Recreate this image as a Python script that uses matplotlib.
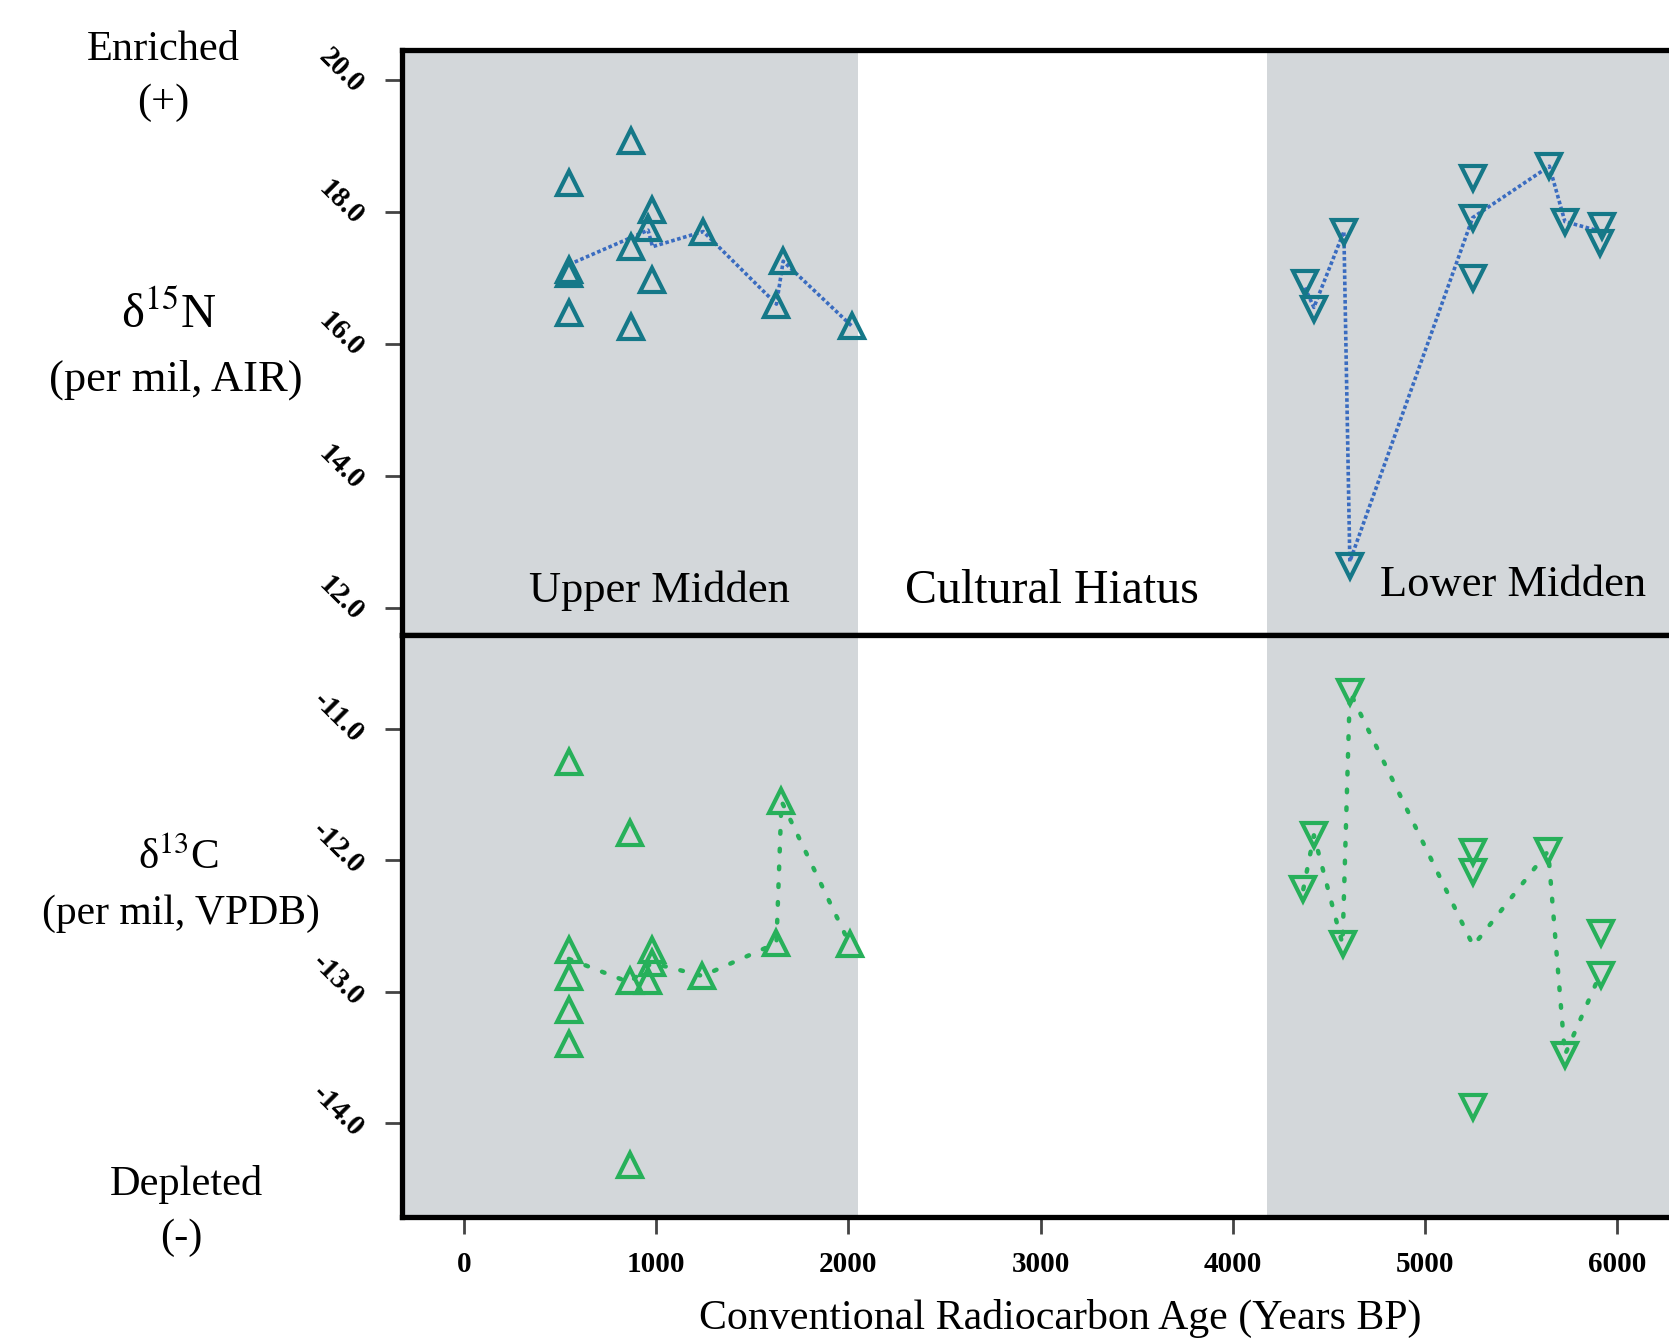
import matplotlib
matplotlib.use("Agg")
import matplotlib.pyplot as plt

# --- data ---
# d15N, upper midden (individual samples)
n_up_age = [547, 547, 547, 547, 867, 867, 867, 958, 981, 981, 1245, 1626, 1661, 2017]
n_up_val = [18.43, 17.12, 17.05, 16.47, 19.07, 17.47, 16.26, 17.75, 18.02, 16.97, 17.70, 16.59, 17.25, 16.27]
# d15N, upper midden trend line
n_up_line_age = [547, 958, 981, 1245, 1626, 1661, 2017]
n_up_line_val = [17.20, 17.72, 17.47, 17.70, 16.60, 17.25, 16.27]

# d15N, lower midden
n_lo_age = [4375, 4422, 4578, 4609, 5248, 5248, 5248, 5647, 5728, 5919, 5910]
n_lo_val = [16.92, 16.52, 17.70, 12.63, 18.51, 17.91, 17.00, 18.69, 17.85, 17.78, 17.53]
n_lo_line_age = [4375, 4422, 4578, 4609, 5248, 5647, 5728, 5915]
n_lo_line_val = [16.85, 16.55, 17.70, 12.70, 17.91, 18.69, 17.85, 17.70]

# d13C, upper midden
c_up_age = [546, 546, 546, 546, 546, 863, 863, 863, 958, 976, 976, 1241, 1626, 1652, 2008]
c_up_val = [-11.25, -12.68, -12.89, -13.14, -13.40, -11.79, -12.92, -14.32, -12.92, -12.68, -12.78,
            -12.88, -12.63, -11.55, -12.64]
c_up_line_age = [546, 863, 976, 1241, 1626, 1652, 2008]
c_up_line_val = [-12.75, -12.93, -12.78, -12.88, -12.63, -11.55, -12.64]

# d13C, lower midden
c_lo_age = [4367, 4422, 4571, 4609, 5251, 5251, 5251, 5641, 5728, 5916, 5916]
c_lo_val = [-12.22, -11.81, -12.64, -10.72, -11.94, -12.09, -13.88, -11.93, -13.48, -12.55, -12.87]
c_lo_line_age = [4367, 4422, 4571, 4609, 5251, 5641, 5728, 5916]
c_lo_line_val = [-12.22, -11.81, -12.64, -10.72, -12.65, -11.93, -13.48, -12.85]

upper_span = (-400, 2050)
lower_span = (4180, 7000)

n_ticks = [12.0, 14.0, 16.0, 18.0, 20.0]
c_ticks = [-14.0, -13.0, -12.0, -11.0]
x_ticks = [0, 1000, 2000, 3000, 4000, 5000, 6000]

# --- styling ---
serif = "Liberation Serif"
plt.rcParams["mathtext.fontset"] = "stix"

teal = "#157888"
blue = "#3a6cc0"
green = "#27b05a"
shade = "#d3d7da"

fig = plt.figure(figsize=(16.69, 13.44), dpi=100)
ax1 = fig.add_axes([0.241, 0.5272, 0.77, 0.4356])
ax2 = fig.add_axes([0.241, 0.0948, 0.77, 0.4324])

for ax in (ax1, ax2):
    ax.axvspan(*upper_span, color=shade, lw=0, zorder=0)
    ax.axvspan(*lower_span, color=shade, lw=0, zorder=0)
    ax.set_xlim(-321, 6365)
    for s in ax.spines.values():
        s.set_linewidth(3.8)
        s.set_color("black")
    ax.spines["right"].set_visible(False)
    ax.tick_params(axis="both", direction="out", length=12, width=2, color="#444444")

# top panel: nitrogen
ax1.plot(n_up_line_age, n_up_line_val, color=blue, lw=2.6, ls=(0, (1, 0.7)), zorder=2)
ax1.plot(n_lo_line_age, n_lo_line_val, color=blue, lw=2.6, ls=(0, (1, 0.7)), zorder=2)
ax1.plot(n_up_age, n_up_val, ls="none", marker="^", ms=17, mew=3, mfc="none", mec=teal, zorder=3)
ax1.plot(n_lo_age, n_lo_val, ls="none", marker="v", ms=17, mew=3, mfc="none", mec=teal, zorder=3)
ax1.set_ylim(11.58, 20.45)
ax1.set_yticks(n_ticks)
ax1.set_yticklabels([f"{t:.1f}" for t in n_ticks])
ax1.set_xticks([])

ax1.text(1019, 12.26, "Upper Midden", ha="center", va="center", fontsize=32, family=serif)
ax1.text(3057, 12.26, "Cultural Hiatus", ha="center", va="center", fontsize=34.5, family=serif)
ax1.text(5460, 12.34, "Lower Midden", ha="center", va="center", fontsize=32, family=serif)

# bottom panel: carbon
ax2.plot(c_up_line_age, c_up_line_val, color=green, lw=3.2, ls=(0, (0.6, 3.4)),
         dash_capstyle="round", zorder=2)
ax2.plot(c_lo_line_age, c_lo_line_val, color=green, lw=3.2, ls=(0, (0.6, 3.4)),
         dash_capstyle="round", zorder=2)
ax2.plot(c_up_age, c_up_val, ls="none", marker="^", ms=17, mew=3, mfc="none", mec=green, zorder=3)
ax2.plot(c_lo_age, c_lo_val, ls="none", marker="v", ms=17, mew=3, mfc="none", mec=green, zorder=3)
ax2.set_ylim(-14.71, -10.29)
ax2.set_yticks(c_ticks)
ax2.set_yticklabels([f"{t:.1f}" for t in c_ticks])
ax2.set_xticks(x_ticks)
ax2.set_xticklabels([str(t) for t in x_ticks])
ax2.tick_params(axis="x", pad=13)
ax2.set_xlabel("Conventional Radiocarbon Age (Years BP)", fontsize=30.2, family=serif, va="center")
ax2.xaxis.set_label_coords(0.512, -0.176)

for ax in (ax1, ax2):
    ax.tick_params(axis="y", pad=12)
    for t in ax.get_yticklabels():
        t.set_family(serif)
        t.set_fontweight("bold")
        t.set_fontsize(21)
        t.set_rotation(-45)
        t.set_rotation_mode("anchor")
        t.set_ha("right")
        t.set_va("top")
    for t in ax.get_xticklabels():
        t.set_family(serif)
        t.set_fontweight("bold")
        t.set_fontsize(21)

# left side labels
lab = dict(ha="center", va="center", family=serif)
fig.text(0.0976, 0.9628, "Enriched", fontsize=30.5, **lab)
fig.text(0.0976, 0.9232, "(+)", fontsize=30.5, **lab)
fig.text(0.1010, 0.7660, "δ$^{15}$N", fontsize=35, **lab)
fig.text(0.1052, 0.7173, "(per mil, AIR)", fontsize=32, **lab)
fig.text(0.1071, 0.3620, "δ$^{13}$C", fontsize=31, **lab)
fig.text(0.1084, 0.3205, "(per mil, VPDB)", fontsize=30, **lab)
fig.text(0.1116, 0.1185, "Depleted", fontsize=30.5, **lab)
fig.text(0.1084, 0.0789, "(-)", fontsize=30.5, **lab)

fig.savefig("out.png", dpi=100, facecolor="white")
